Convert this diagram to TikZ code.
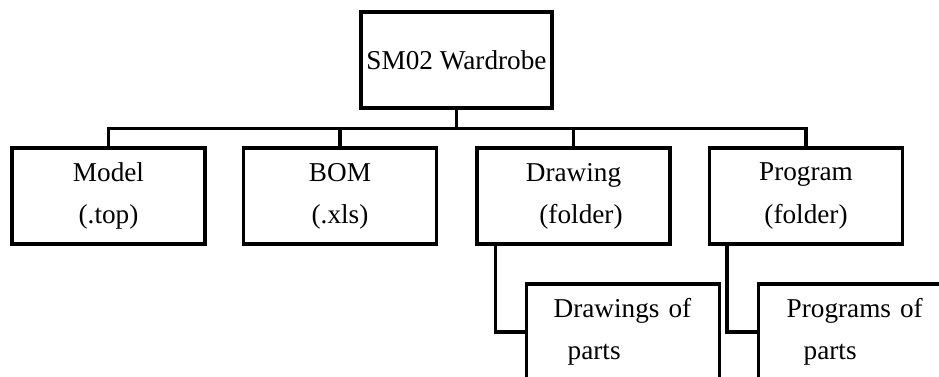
\documentclass[tikz,border=0pt]{standalone}
\usepackage{fontspec}
\setmainfont{Liberation Serif}
\usepackage{tikz}
\usetikzlibrary{
	positioning,
	calc
}
\tikzstyle{box} = [rectangle, draw=black, line width=1.9pt, minimum width=3.86cm, minimum height=1.92cm, inner sep=0pt, align=center, font={\fontsize{15.5}{24}\selectfont}]
\tikzstyle{sub} = [box, anchor=west, align=left]
\tikzstyle{conn} = [line width=1.9pt, draw=black]

\begin{document}
\begin{tikzpicture}[x=0.02cm, y=-0.02cm]
		
		% Cadre de la page
		\useasboundingbox (0,0) rectangle (939,376);
		\clip (0,0) rectangle (939,376);
		
		% ====== Bloc racine ======
		\node[box, minimum width=3.82cm] (root) at (456.5,60) {\raisebox{-3.4pt}{SM02 Wardrobe}};
		
		% ====== Blocs niveau 1 ======
		\node[box] (model) at (108.5,196) {Model\\(.top)};
		\node[box] (bom) at (340,196) {BOM\\(.xls)};
		\node[box] (drw) at (573.5,196) {Drawing\\\hspace*{0.3cm}(folder)};
		\node[box] (prg) at (806,196) {Program\\(folder)};
		
		% ====== Blocs niveau 2 ======
		\node[sub, inner xsep=0.54cm, text width=2.78cm] (drwparts) at (525,332) {Drawings of\\\hspace*{0.28cm}parts};
		\node[sub, minimum width=4.4cm, inner xsep=0.56cm, text width=3.28cm] (prgparts) at (757,332) {Programs of\\\hspace*{0.34cm}parts};
		
		% ====== Liaisons ======
		\coordinate (bus) at ($(root.south)+(0,19)$);
		\draw[conn] (root.south) -- (bus);
		\foreach \n in {model,bom,drw,prg}
		\draw[conn] (bus) -| (\n.north);
		
		\draw[conn] ($(drw.south west)+(20,0)$) |- (drwparts.west);
		\draw[conn] ($(prg.south west)+(19,0)$) |- (prgparts.west);
		
	\end{tikzpicture}
\end{document}
